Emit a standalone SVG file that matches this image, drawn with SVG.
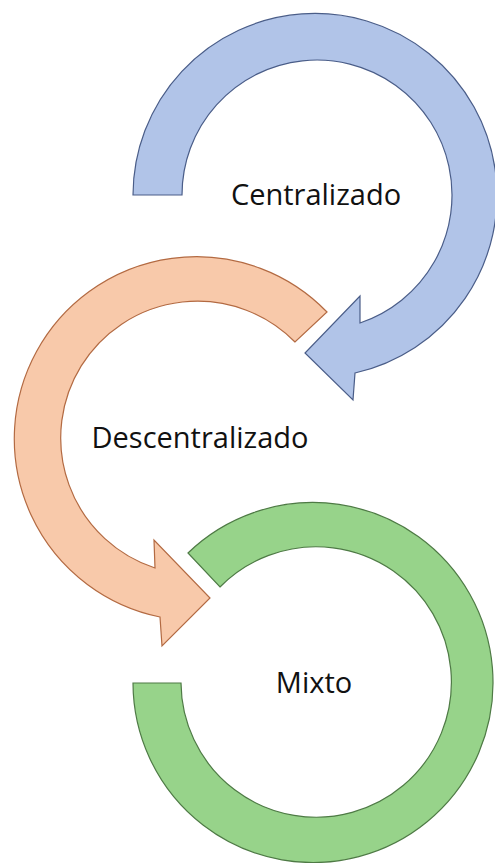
<svg xmlns="http://www.w3.org/2000/svg" width="495" height="863" viewBox="0 0 495 863">
<style>
  .lbl { font-family: "Open Sans", "Liberation Sans", sans-serif; font-size: 29px; fill: #111; text-anchor: middle; }
  .blue { fill: #B1C4E8; stroke: #4A5D88; stroke-width: 1.2; stroke-linejoin: miter; }
  .orange { fill: #F8C9AA; stroke: #B36A42; stroke-width: 1.2; }
  .green { fill: #97D38A; stroke: #4E7A45; stroke-width: 1.2; }
</style>
<rect width="495" height="863" fill="#ffffff"/>
<g id="centralizado">
  <path class="blue" d="M133,195 A182,182 0 1 1 355,373 L353,400 L305,353 L360,296 L360,323 A135,135 0 1 0 182,195 Z"/>
  <text class="lbl" x="316" y="205">Centralizado</text>
</g>
<g id="descentralizado">
  <path class="orange" d="M327,312 A182,182 0 1 0 160,617 L162,646 L210,598 L154,540 L155,568 A136.8,136.8 0 1 1 295,342 Z"/>
  <text class="lbl" x="200" y="448">Descentralizado</text>
</g>
<g id="mixto">
  <path class="green" d="M188,553 A180,180 0 1 1 133,683 L181,683 A135.2,135.2 0 1 0 220,587 Z"/>
  <text class="lbl" x="314" y="693">Mixto</text>
</g>
<g id="connectors"></g>
</svg>
